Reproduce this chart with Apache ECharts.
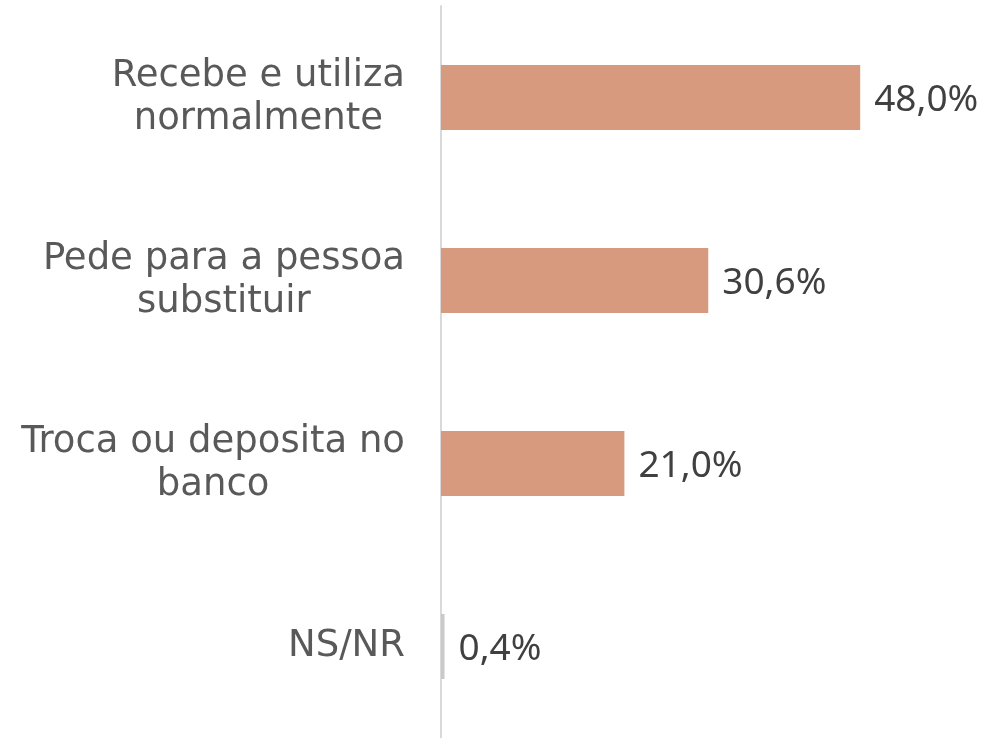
<!DOCTYPE html>
<html>
<head>
<meta charset="utf-8">
<script src="https://cdn.jsdelivr.net/npm/echarts@6/dist/echarts.min.js"></script>
<style>
  html, body { margin: 0; padding: 0; background: #fff; }
  #chart { width: 987px; height: 738px; }
</style>
</head>
<body>
<div id="chart"></div>
<script>
// dados
var categories = ['Recebe e utiliza\nnormalmente', 'Pede para a pessoa\nsubstituir', 'Troca ou deposita no\nbanco', 'NS/NR'];
var values = [48.0, 30.6, 21.0, 0.4];
var barColors = ['#D89A7E', '#D89A7E', '#D89A7E', '#C9C9C9'];

var chart = echarts.init(document.getElementById('chart'));

var option = {
  animation: false,
  grid: { left: 441, top: 6, width: 524, height: 738 },
  xAxis: {
    type: 'value',
    min: 0,
    max: 60,
    show: false
  },
  yAxis: {
    type: 'category',
    inverse: true,
    data: categories,
    axisLine: { show: true, lineStyle: { color: '#D9D9D9', width: 2 } },
    axisTick: { show: false },
    axisLabel: {
      margin: 36,
      align: 'right',
      formatter: function (v) {
        return v.split('\n').map(function (l) { return '{c|' + l + '}'; }).join('\n');
      },
      rich: {
        c: {
          align: 'center',
          fontFamily: 'DejaVu Sans',
          fontSize: 37,
          lineHeight: 43,
          color: '#595959'
        }
      }
    }
  },
  series: [{
    type: 'bar',
    barWidth: 65,
    data: values.map(function (v, i) {
      return { value: v, itemStyle: { color: barColors[i] } };
    }),
    label: {
      show: true,
      position: 'right',
      distance: 14,
      offset: [0, 3],
      fontFamily: 'Noto Sans',
      fontSize: 37,
      color: '#404040',
      formatter: function (p) {
        return p.value.toFixed(1).replace('.', ',') + '%';
      }
    }
  }]
};

chart.setOption(option);
</script>
</body>
</html>
